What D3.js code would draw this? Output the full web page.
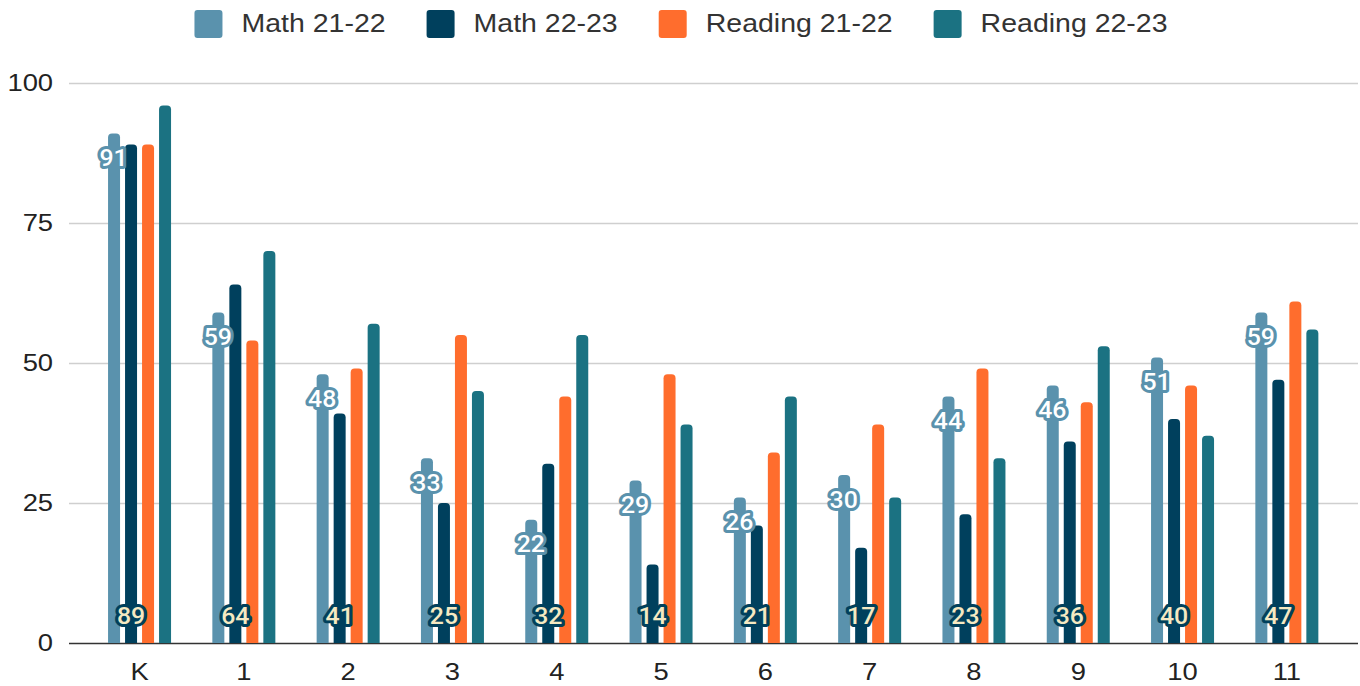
<!DOCTYPE html>
<html>
<head>
<meta charset="utf-8">
<script src="https://cdn.jsdelivr.net/npm/d3@7"></script>
<style>
  html, body { margin: 0; padding: 0; background: #fff; }
  #vis-display { width: 1360px; height: 686px; }
</style>
</head>
<body>
<div id="vis-display"></div>
<script>
// Grouped bar chart: math / reading proficiency by grade, two school years.

const GRADES   = ["K", "1", "2", "3", "4", "5", "6", "7", "8", "9", "10", "11"];
const SERIES   = ["Math 21-22", "Math 22-23", "Reading 21-22", "Reading 22-23"];
const COLORS   = ["#5a92ad", "#00405d", "#ff6d2d", "#1b7282"];

const MATH_2122 = [91, 59, 48, 33, 22, 29, 26, 30, 44, 46, 51, 59];
const MATH_2223 = [89, 64, 41, 25, 32, 14, 21, 17, 23, 36, 40, 47];
const READ_2122 = [89, 54, 49, 55, 44, 48, 34, 39, 49, 43, 46, 61];
const READ_2223 = [96, 70, 57, 45, 55, 39, 44, 26, 33, 53, 37, 56];

const Y_TICKS = [0, 25, 50, 75, 100];

const VALUES = [MATH_2122, MATH_2223, READ_2122, READ_2223];

const W = 1360, H = 686;
const margin = { top: 83, right: 2, bottom: 43, left: 69 };
const innerW = W - margin.left - margin.right;
const innerH = H - margin.top - margin.bottom;
const STRETCH = 1.14;   // the source text is a little wide

const svg = d3.select("#vis-display").append("svg")
  .attr("width", W)
  .attr("height", H);

// ── Scales ────────────────────────────────────────────────────────────────

const y = d3.scaleLinear().domain([0, 100]).range([innerH, 0]);

const x0 = d3.scaleBand()
  .domain(GRADES)
  .range([18.4, innerW - 19])
  .paddingInner(0)
  .paddingOuter(0);

const x1 = d3.scaleBand()
  .domain(SERIES)
  .range([0, 63])
  .paddingInner(5 / 17);

const color = d3.scaleOrdinal().domain(SERIES).range(COLORS);

const plot = svg.append("g")
  .attr("transform", `translate(${margin.left},${margin.top})`);

// ── Y axis / gridlines ────────────────────────────────────────────────────

plot.append("g")
  .call(d3.axisLeft(y).tickValues(Y_TICKS).tickSize(-innerW).tickPadding(14))
  .call(ax => ax.select(".domain").remove())
  .call(ax => ax.selectAll(".tick line")
    .attr("stroke", d => d === 0 ? "#333" : "#cfcfcf")
    .attr("stroke-width", d => d === 0 ? 1.6 : 1.4))
  .selectAll("text")
    .attr("transform", `scale(${STRETCH},1)`)
    .style("font-family", "'Liberation Sans', Arial, sans-serif")
    .style("font-size", "24px")
    .style("fill", "#222");

// ── Bars ──────────────────────────────────────────────────────────────────

const rows = GRADES.map((g, i) => ({
  grade: g,
  vals: SERIES.map((s, k) => ({ series: s, value: VALUES[k][i] })),
}));

function topRounded(x, yTop, w, h, r) {
  r = Math.min(r, w / 2, h);
  return `M${x},${yTop + h}V${yTop + r}Q${x},${yTop} ${x + r},${yTop}` +
         `H${x + w - r}Q${x + w},${yTop} ${x + w},${yTop + r}V${yTop + h}Z`;
}

const groupOff = (x0.bandwidth() - 63) / 2;

const groups = plot.append("g")
  .selectAll("g")
  .data(rows)
  .join("g")
    .attr("transform", d => `translate(${x0(d.grade) + groupOff},0)`);

groups.selectAll("path")
  .data(d => d.vals)
  .join("path")
    .attr("d", d => topRounded(x1(d.series), y(d.value), x1.bandwidth(), innerH - y(d.value), 4))
    .attr("fill", d => color(d.series));

// ── Data labels (Math series only) ───────────────────────────────────────

const labelFont = "Roboto, 'Noto Sans', sans-serif";

// Math 21-22: inside end, white with blue halo
groups.append("text")
  .attr("transform", d => `translate(${x1(SERIES[0]) + x1.bandwidth() / 2 - 0.5},${y(d.vals[0].value) + 25}) scale(1.08,1)`)
  .attr("text-anchor", "middle")
  .attr("dominant-baseline", "central")
  .style("font-family", labelFont)
  .style("font-size", "23px")
  .style("font-weight", 500)
  .style("fill", "#fff")
  .style("stroke", COLORS[0])
  .style("stroke-width", 6)
  .style("stroke-linejoin", "round")
  .style("paint-order", "stroke")
  .text(d => d.vals[0].value);

// Math 22-23: inside base, cream with dark halo
groups.append("text")
  .attr("transform", d => `translate(${x1(SERIES[1]) + x1.bandwidth() / 2},${innerH - 26.5}) scale(1.08,1)`)
  .attr("text-anchor", "middle")
  .attr("dominant-baseline", "central")
  .style("font-family", labelFont)
  .style("font-size", "23px")
  .style("font-weight", 500)
  .style("fill", "#f5e9c2")
  .style("stroke", COLORS[1])
  .style("stroke-width", 6)
  .style("stroke-linejoin", "round")
  .style("paint-order", "stroke")
  .text(d => d.vals[1].value);

// ── X axis ────────────────────────────────────────────────────────────────

plot.append("g")
  .attr("transform", `translate(0,${innerH})`)
  .call(d3.axisBottom(x0).tickSize(0).tickPadding(20))
  .call(ax => ax.select(".domain").remove())
  .selectAll("text")
    .attr("transform", `scale(${STRETCH},1)`)
    .style("font-family", "'Liberation Sans', Arial, sans-serif")
    .style("font-size", "24px")
    .style("fill", "#222");

// ── Legend ────────────────────────────────────────────────────────────────

const legend = svg.append("g");
const SW = 28, GAP_TXT = 19, GAP_ITEM = 41;
let cursor = 0;
SERIES.forEach((s, k) => {
  const item = legend.append("g").attr("transform", `translate(${cursor},0)`);
  item.append("rect")
    .attr("x", 0).attr("y", 10)
    .attr("width", SW).attr("height", SW)
    .attr("rx", 3)
    .attr("fill", color(s));
  const t = item.append("text")
    .attr("transform", `translate(${SW + GAP_TXT},24) scale(${STRETCH},1)`)
    .attr("dominant-baseline", "central")
    .style("font-family", "'Liberation Sans', Arial, sans-serif")
    .style("font-size", "25px")
    .style("fill", "#333")
    .text(s);
  const tw = t.node().getComputedTextLength() * STRETCH;
  cursor += SW + GAP_TXT + tw + (k < SERIES.length - 1 ? GAP_ITEM : 0);
});
legend.attr("transform", `translate(${(W - cursor) / 2 + 1},0)`);
</script>
</body>
</html>
